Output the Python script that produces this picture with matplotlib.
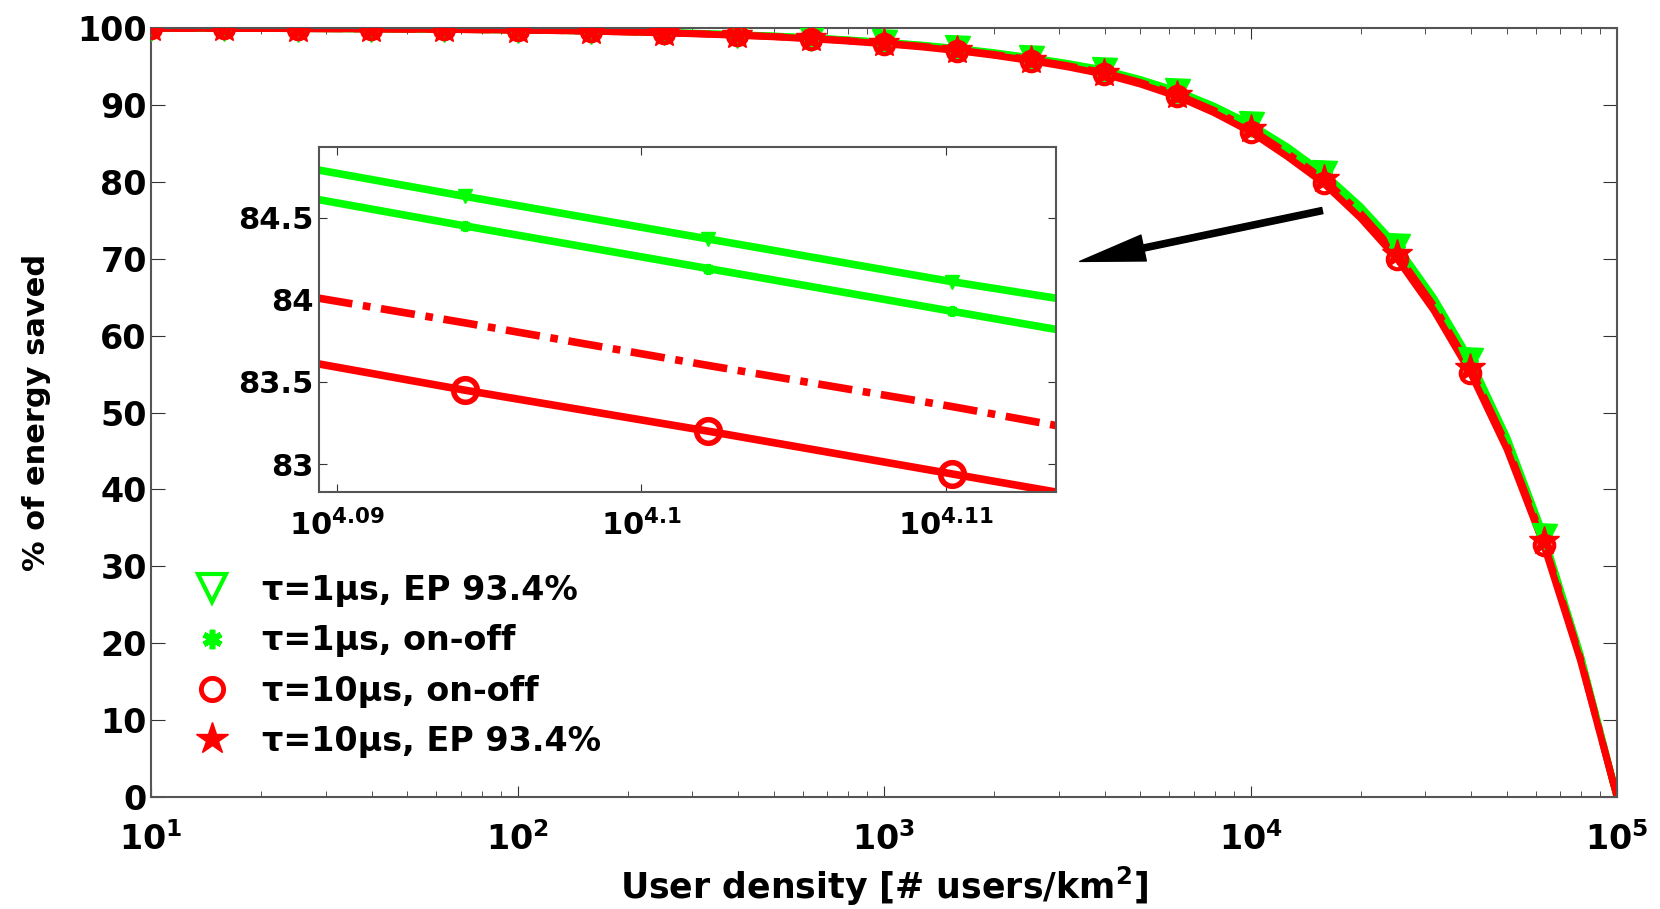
import matplotlib
matplotlib.use('Agg')
import matplotlib.pyplot as plt
from matplotlib.lines import Line2D
from matplotlib.patches import FancyArrowPatch
from matplotlib.ticker import FixedLocator, FixedFormatter, LogLocator, NullLocator, NullFormatter

plt.rcParams['font.family'] = ['DejaVu Sans']
plt.rcParams['font.weight'] = 'bold'
plt.rcParams['mathtext.fontset'] = 'custom'
plt.rcParams['mathtext.rm'] = 'DejaVu Sans'
plt.rcParams['mathtext.bf'] = 'DejaVu Sans:bold'

GREEN = '#00ff00'
RED = '#ff0000'

# user density as log10 exponents
density_exp = [1.0, 1.1, 1.2, 1.3, 1.4, 1.5, 1.6, 1.7, 1.8, 1.9,
               2.0, 2.1, 2.2, 2.3, 2.4, 2.5, 2.6, 2.7, 2.8, 2.9,
               3.0, 3.1, 3.2, 3.3, 3.4, 3.5, 3.6, 3.7, 3.8, 3.9,
               4.0, 4.1, 4.2, 4.3, 4.4, 4.5, 4.6, 4.7, 4.8, 4.9, 5.0]

# % of energy saved, one list per curve
ep_1us = [99.98, 99.97, 99.96, 99.95, 99.93, 99.91, 99.89, 99.86, 99.83, 99.79,
          99.75, 99.69, 99.62, 99.53, 99.42, 99.30, 99.14, 98.96, 98.73, 98.46,
          98.15, 97.79, 97.34, 96.80, 96.15, 95.40, 94.55, 93.30, 91.80, 89.85,
          87.50, 84.55, 81.10, 76.80, 71.60, 64.90, 56.80, 46.70, 34.00, 18.50, 0.0]
onoff_1us = [99.98, 99.97, 99.96, 99.95, 99.93, 99.91, 99.89, 99.86, 99.83, 99.78,
             99.74, 99.68, 99.61, 99.52, 99.41, 99.28, 99.12, 98.93, 98.70, 98.42,
             98.11, 97.74, 97.28, 96.72, 96.07, 95.31, 94.44, 93.18, 91.66, 89.67,
             87.30, 84.30, 80.82, 76.50, 71.28, 64.58, 56.48, 46.40, 33.76, 18.36, 0.0]
onoff_10us = [99.97, 99.96, 99.95, 99.94, 99.92, 99.90, 99.88, 99.85, 99.82, 99.77,
              99.72, 99.66, 99.58, 99.48, 99.36, 99.22, 99.05, 98.85, 98.60, 98.30,
              97.95, 97.55, 97.05, 96.45, 95.75, 94.95, 94.00, 92.70, 91.10, 89.00,
              86.50, 83.30, 79.80, 75.30, 70.00, 63.30, 55.20, 45.20, 32.80, 17.80, 0.0]
ep_10us = [99.97, 99.96, 99.95, 99.94, 99.92, 99.90, 99.88, 99.85, 99.82, 99.77,
           99.73, 99.67, 99.59, 99.49, 99.38, 99.25, 99.08, 98.89, 98.65, 98.36,
           98.02, 97.64, 97.15, 96.57, 95.89, 95.11, 94.20, 92.92, 91.35, 89.30,
           86.86, 83.75, 80.30, 75.92, 70.58, 63.88, 55.78, 45.70, 33.23, 18.05, 0.0]

# zoomed inset
inset_exp = [4.0894, 4.0942, 4.1022, 4.1102, 4.1136]
inset_ep_1us = [84.79, 84.63, 84.37, 84.11, 84.01]
inset_onoff_1us = [84.61, 84.45, 84.19, 83.93, 83.82]
inset_ep_10us = [84.01, 83.86, 83.60, 83.35, 83.235]
inset_onoff_10us = [83.61, 83.45, 83.20, 82.94, 82.83]

labels = ['τ=1μs, EP 93.4%', 'τ=1μs, on-off', 'τ=10μs, on-off', 'τ=10μs, EP 93.4%']

density = [10 ** e for e in density_exp]
inset_density = [10 ** e for e in inset_exp]

fig = plt.figure(figsize=(16.6, 9.09), dpi=100)
ax = fig.add_axes([151 / 1660, 1 - 797 / 909, 1466 / 1660, 769 / 909])

# lines first, red on top
ax.plot(density, ep_1us, color=GREEN, lw=5, zorder=2)
ax.plot(density, onoff_1us, color=GREEN, lw=5, zorder=2)
ax.plot(density, ep_10us, color=RED, lw=5, ls='-.', zorder=2)
ax.plot(density, onoff_10us, color=RED, lw=5, zorder=2)

# markers every 0.2 decade
marks = slice(0, 40, 2)
ax.plot(density, ep_1us, ls='none', marker='v', ms=18, color=GREEN, markevery=marks, zorder=3)
ax.plot(density, onoff_1us, ls='none', marker=(6, 2, 0), ms=12, mew=4, color=GREEN,
        markevery=marks, zorder=3)
ax.plot(density, onoff_10us, ls='none', marker='o', ms=14, mew=3, mfc='none', color=RED,
        markevery=marks, zorder=3)
ax.plot(density, ep_10us, ls='none', marker='*', ms=22, color=RED, markevery=marks, zorder=3)

ax.set_xscale('log')
ax.set_xlim(10, 1e5)
ax.set_ylim(0, 100)
ax.xaxis.set_major_locator(FixedLocator([1e1, 1e2, 1e3, 1e4, 1e5]))
ax.xaxis.set_major_formatter(FixedFormatter([r'$\mathbf{10^{%d}}$' % k for k in range(1, 6)]))
ax.xaxis.set_minor_locator(LogLocator(base=10, subs=range(2, 10)))
ax.xaxis.set_minor_formatter(NullFormatter())
ax.set_yticks(range(0, 101, 10))
ax.tick_params(axis='both', which='both', direction='in', top=True, right=True,
               labelsize=24, color='#333333')
ax.tick_params(axis='y', which='major', length=10, pad=3)
ax.tick_params(axis='x', which='major', length=8, pad=18)
ax.tick_params(axis='x', which='minor', length=4)
for s in ax.spines.values():
    s.set_color('#555555')
    s.set_linewidth(1.5)

ax.set_xlabel('User density [# users/km$^{\\mathbf{2}}$]', fontsize=25, fontweight='bold', labelpad=6)
ax.set_ylabel('% of energy saved', fontsize=22, fontweight='bold', labelpad=19)

# legend: markers only, no frame
handles = [
    Line2D([], [], ls='none', marker='v', ms=20, mew=3, mfc='none', color=GREEN),
    Line2D([], [], ls='none', marker=(6, 2, 0), ms=14, mew=4, color=GREEN),
    Line2D([], [], ls='none', marker='o', ms=16, mew=3.5, mfc='none', color=RED),
    Line2D([], [], ls='none', marker='*', ms=24, color=RED),
]
ax.legend(handles, labels, loc='upper left', bbox_to_anchor=(192 / 1660, 1 - 574 / 909),
          bbox_transform=fig.transFigure, frameon=False, borderpad=0,
          borderaxespad=0, handlelength=1.2, handletextpad=0.9, labelspacing=0.52,
          prop={'weight': 'bold', 'size': 24})

# inset zoom
ins = fig.add_axes([319 / 1660, 1 - 492 / 909, 737 / 1660, 345 / 909])
ins.plot(inset_density, inset_ep_1us, color=GREEN, lw=5.5, marker='v', ms=10,
         markevery=[1, 2, 3])
ins.plot(inset_density, inset_onoff_1us, color=GREEN, lw=5.5, marker=(6, 2, 0), ms=8, mew=3.5,
         markevery=[1, 2, 3])
ins.plot(inset_density, inset_ep_10us, color=RED, lw=5.5, ls=(0, (4.5, 1.4, 1.0, 1.4)))
ins.plot(inset_density, inset_onoff_10us, color=RED, lw=5.5, marker='o', ms=17, mew=4,
         mfc='none', markevery=[1, 2, 3])
ins.set_xscale('log')
ins.set_xlim(10 ** 4.08942, 10 ** 4.11361)
ins.set_ylim(82.83, 84.93)
ins.xaxis.set_major_locator(FixedLocator([10 ** 4.09, 10 ** 4.1, 10 ** 4.11]))
ins.xaxis.set_major_formatter(FixedFormatter([r'$\mathbf{10^{4.09}}$', r'$\mathbf{10^{4.1}}$',
                                              r'$\mathbf{10^{4.11}}$']))
ins.xaxis.set_minor_locator(NullLocator())
ins.set_yticks([83, 83.5, 84, 84.5])
ins.set_yticklabels(['83', '83.5', '84', '84.5'])
ins.tick_params(axis='both', which='both', direction='in', top=True, right=True,
                labelsize=22, length=6, color='#333333', pad=4)
ins.tick_params(axis='x', pad=12)
for s in ins.spines.values():
    s.set_color('#555555')
    s.set_linewidth(1.5)

# arrow pointing at the inset
arrow = FancyArrowPatch((1325, 909 - 210), (1077, 909 - 262), transform=None,
                        arrowstyle='simple,head_length=4.7,head_width=1.9,tail_width=0.45',
                        mutation_scale=10, color='black', zorder=5)
fig.patches.append(arrow)

fig.savefig('out.png', dpi=100)
